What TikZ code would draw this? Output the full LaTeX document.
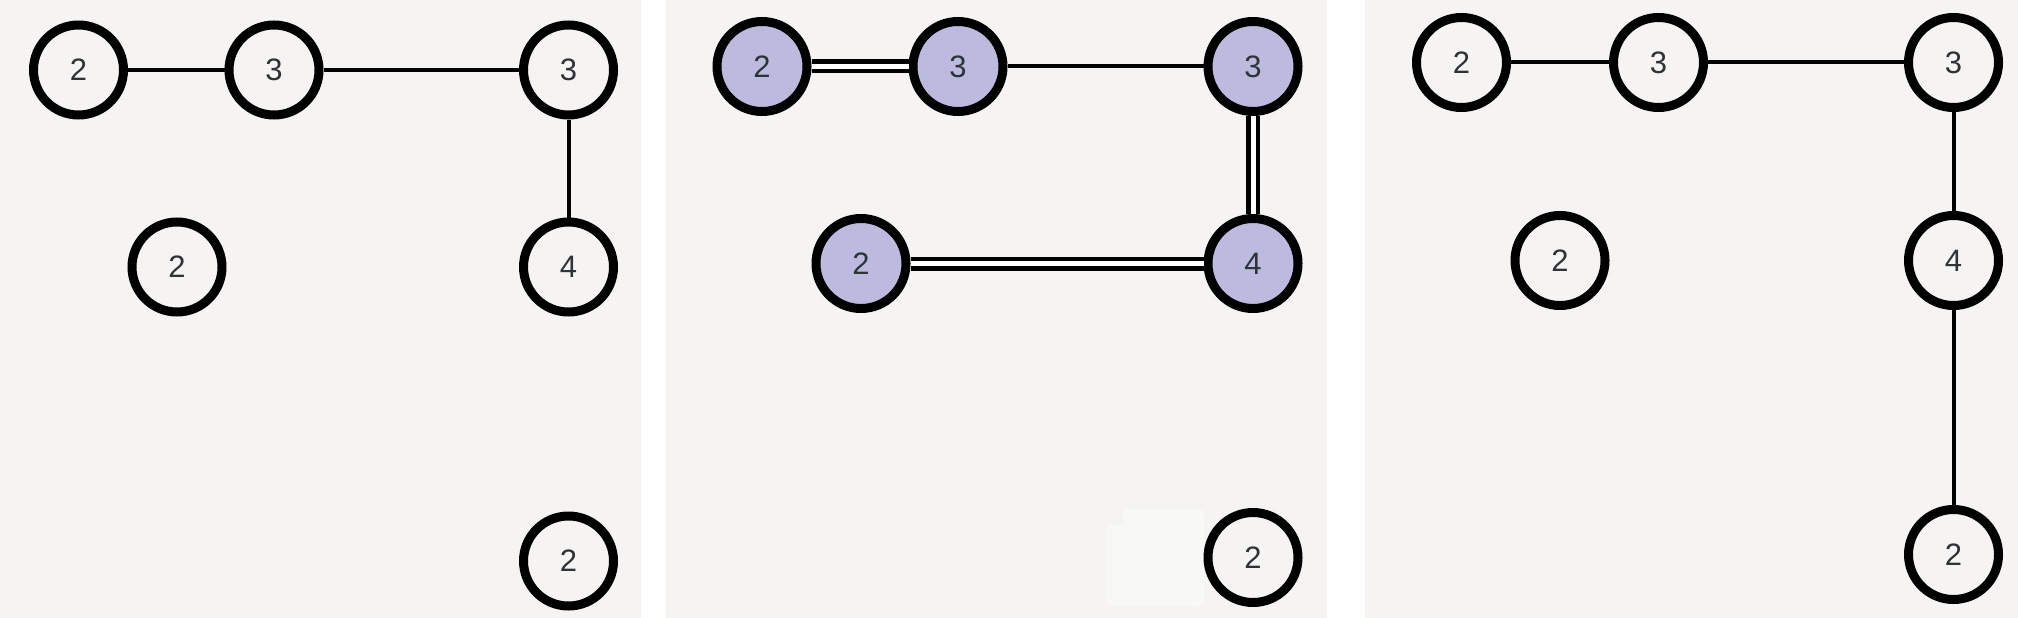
\documentclass[tikz,border=0pt]{standalone}
\usepackage{fontspec}
\newfontfamily\labfont{Liberation Sans}
\definecolor{bgc}{RGB}{245,244,242}
\definecolor{lav}{RGB}{188,187,223}
\definecolor{txt}{RGB}{46,51,56}
\definecolor{ghost}{RGB}{248,248,247}
\tikzset{
  gnode/.style={circle, draw=black, line width=9pt, minimum size=90pt, inner sep=0pt,
    fill=bgc, text=txt, font=\labfont\fontsize{31}{37}\selectfont},
  hnode/.style={gnode, fill=lav},
  sedge/.style={draw=black, line width=4pt},
  dedge/.style={draw=black, line width=4.5pt, double=white, double distance=5pt}
}
\begin{document}
\begin{tikzpicture}[x=1pt,y=-1pt]
\useasboundingbox (0,0) rectangle (2018,618);
\fill[white] (0,0) rectangle (2018,618);
\fill[bgc] (0,0) rectangle (641,618);
\fill[bgc] (666,0) rectangle (1327,618);
\fill[bgc] (1365,0) rectangle (2018,618);
% faint shape in panel 2
\fill[ghost, rounded corners=5pt] (1123,509) rectangle (1204,606);
\fill[ghost, rounded corners=5pt] (1106,525) rectangle (1140,606);

% panel 1
\node[gnode] (a1) at (78.5,70) {2};
\node[gnode] (a2) at (274,70) {3};
\node[gnode] (a3) at (568.5,70) {3};
\node[gnode] (a4) at (177,267) {2};
\node[gnode] (a5) at (568.5,267) {4};
\node[gnode] (a6) at (568.5,561) {2};
\draw[sedge] (a1) -- (a2);
\draw[sedge] (a2) -- (a3);
\draw[sedge] (a3) -- (a5);

% panel 2
\node[hnode] (b1) at (762,66.5) {2};
\node[hnode] (b2) at (958,66.5) {3};
\node[hnode] (b3) at (1253,66.5) {3};
\node[hnode] (b4) at (861,263.5) {2};
\node[hnode] (b5) at (1253,263.5) {4};
\node[gnode] (b6) at (1253,557.5) {2};
\draw[dedge] (b1) -- (b2);
\draw[sedge] (b2) -- (b3);
\draw[dedge] (b3) -- (b5);
\draw[dedge] (b4) -- (b5);

% panel 3
\node[gnode] (c1) at (1461.5,62.5) {2};
\node[gnode] (c2) at (1658.5,62.5) {3};
\node[gnode] (c3) at (1953.5,62.5) {3};
\node[gnode] (c4) at (1560,260.5) {2};
\node[gnode] (c5) at (1953.5,260.5) {4};
\node[gnode] (c6) at (1953.5,554.5) {2};
\draw[sedge] (c1) -- (c2);
\draw[sedge] (c2) -- (c3);
\draw[sedge] (c3) -- (c5);
\draw[sedge] (c5) -- (c6);
\end{tikzpicture}
\end{document}
